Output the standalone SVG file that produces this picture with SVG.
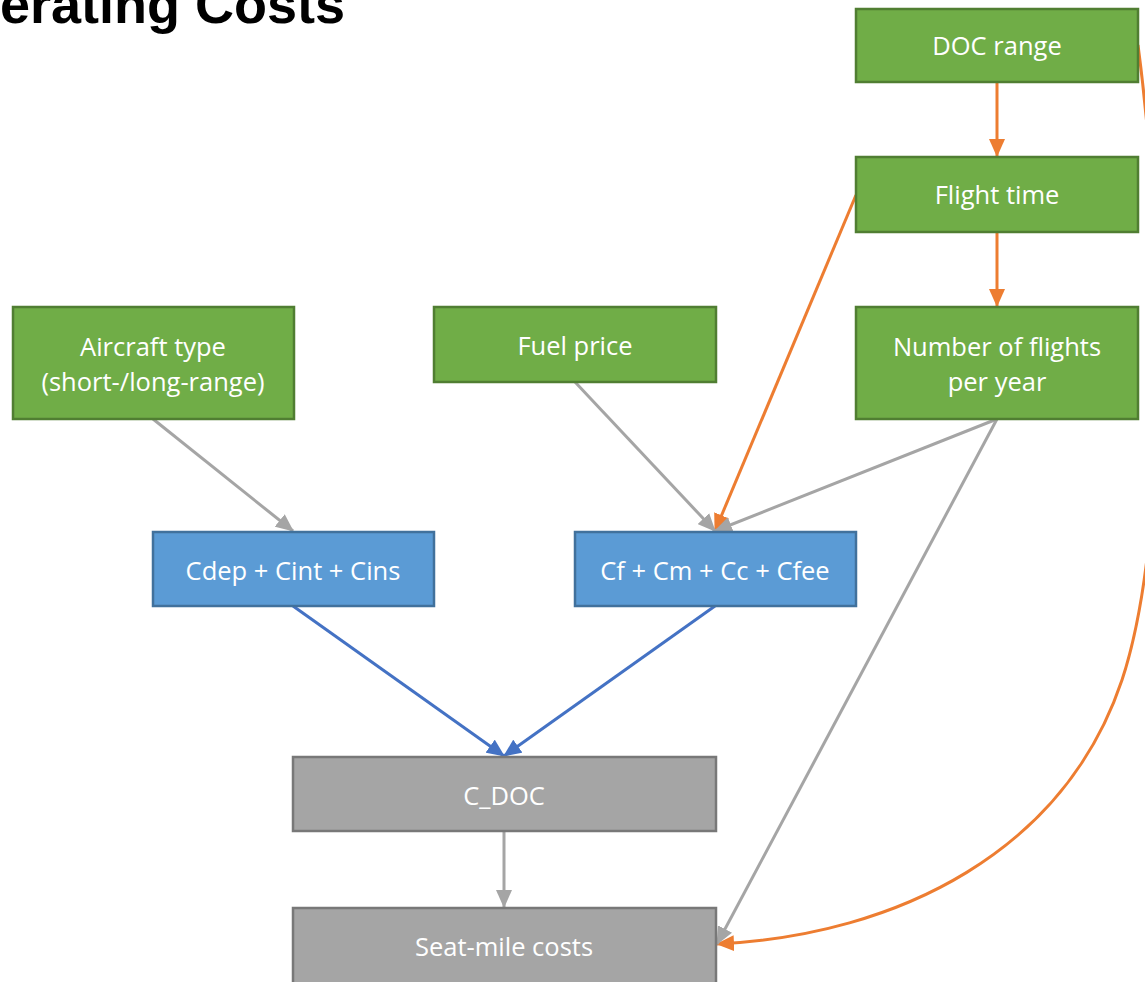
<svg xmlns="http://www.w3.org/2000/svg" width="1145" height="982" viewBox="0 0 1145 982">
<style>
.t{font-family:"Open Sans","Liberation Sans",sans-serif;font-size:25.5px;fill:#fff;text-anchor:middle}
.g rect{fill:#70AD47;stroke:#507E32;stroke-width:2.5}
.b rect{fill:#5B9BD5;stroke:#41719C;stroke-width:2.5}
.y rect{fill:#A5A5A5;stroke:#787878;stroke-width:2.5}
.c path{fill:none;stroke-width:3}
.o{stroke:#ED7D31}
.gr{stroke:#A5A5A5}
.bl{stroke:#4472C4}
</style>
<defs>
<marker id="ao" markerUnits="userSpaceOnUse" markerWidth="18" markerHeight="16" refX="17" refY="8" orient="auto"><path d="M0,0L18,8L0,16z" fill="#ED7D31"/></marker>
<marker id="ag" markerUnits="userSpaceOnUse" markerWidth="18" markerHeight="16" refX="17" refY="8" orient="auto"><path d="M0,0L18,8L0,16z" fill="#A5A5A5"/></marker>
<marker id="ab" markerUnits="userSpaceOnUse" markerWidth="18" markerHeight="16" refX="17" refY="8" orient="auto"><path d="M0,0L18,8L0,16z" fill="#4472C4"/></marker>
</defs>
<rect width="1145" height="982" fill="#fff"/>
<text x="345" y="23" font-family="Liberation Sans, Arial, sans-serif" font-weight="bold" font-size="54" text-anchor="end" fill="#000">Operating Costs</text>
<g class="c" id="connectors">
<path class="o" d="M997,82L997,156" marker-end="url(#ao)"/>
<path class="o" d="M997,232L997,306" marker-end="url(#ao)"/>
<path class="o" d="M856,195L715,531" marker-end="url(#ao)"/>
<path class="o" d="M1138,45C1165,250 1168,540 1122,680 C1065,850 900,935 717,944" marker-end="url(#ao)"/>
<path class="gr" d="M153,419L293,531" marker-end="url(#ag)"/>
<path class="gr" d="M575,382L715,531" marker-end="url(#ag)"/>
<path class="gr" d="M997,419L715,531" marker-end="url(#ag)"/>
<path class="gr" d="M997,419L717,944" marker-end="url(#ag)"/>
<path class="bl" d="M293,606L504,756" marker-end="url(#ab)"/>
<path class="bl" d="M715,606L504,756" marker-end="url(#ab)"/>
<path class="gr" d="M504,831L504,907" marker-end="url(#ag)"/>
</g>
<g id="doc-range" class="g"><rect x="856" y="9" width="282" height="73"/><text class="t" x="997" y="55">DOC range</text></g>
<g id="flight-time" class="g"><rect x="856" y="157" width="282" height="75"/><text class="t" x="997" y="204">Flight time</text></g>
<g id="num-flights" class="g"><rect x="856" y="307" width="282" height="112"/><text class="t" x="997" y="356">Number of flights</text><text class="t" x="997" y="391">per year</text></g>
<g id="aircraft-type" class="g"><rect x="13" y="307" width="281" height="112"/><text class="t" x="153" y="356">Aircraft type</text><text class="t" x="153" y="391">(short-/long-range)</text></g>
<g id="fuel-price" class="g"><rect x="434" y="307" width="282" height="75"/><text class="t" x="575" y="355">Fuel price</text></g>
<g id="cdep" class="b"><rect x="153" y="532" width="281" height="74"/><text class="t" x="293" y="580">Cdep + Cint + Cins</text></g>
<g id="cf" class="b"><rect x="575" y="532" width="281" height="74"/><text class="t" x="715" y="580">Cf + Cm + Cc + Cfee</text></g>
<g id="c-doc" class="y"><rect x="293" y="757" width="423" height="74"/><text class="t" x="504" y="805">C_DOC</text></g>
<g id="seat-mile" class="y"><rect x="293" y="908" width="423" height="80"/><text class="t" x="504" y="956">Seat-mile costs</text></g>
</svg>
